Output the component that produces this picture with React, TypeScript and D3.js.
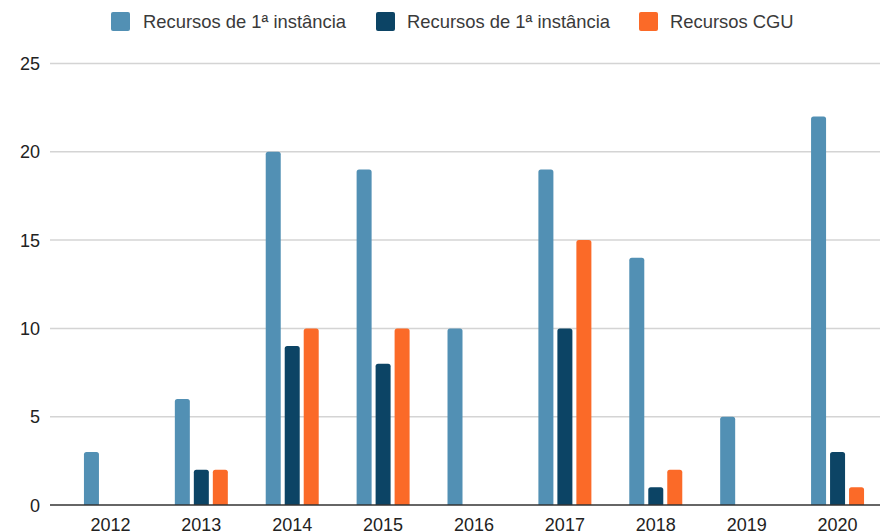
import React from "react";
import * as d3 from "d3";

const years = ["2012", "2013", "2014", "2015", "2016", "2017", "2018", "2019", "2020"];
const seriesNames = ["Recursos de 1ª instância", "Recursos de 1ª instância", "Recursos CGU"];
const seriesColors = ["#5290b4", "#0c4465", "#fb6a28"];
const firstInstance = [3, 6, 20, 19, 10, 19, 14, 5, 22];
const secondInstance = [0, 2, 9, 8, 0, 10, 1, 0, 3];
const cguAppeals = [0, 2, 10, 10, 0, 15, 2, 0, 1];
const yTicks = [0, 5, 10, 15, 20, 25];

const W = 881;
const H = 532;
const FONT = "Liberation Sans, Arial, sans-serif";

function topRoundedBar(x: number, y: number, w: number, h: number, r: number) {
  const rr = Math.min(r, h, w / 2);
  return `M${x},${y + h}V${y + rr}Q${x},${y} ${x + rr},${y}H${x + w - rr}Q${x + w},${y} ${x + w},${y + rr}V${y + h}Z`;
}

export default function App() {
  const series = [firstInstance, secondInstance, cguAppeals];
  const x0 = d3.scaleBand().domain(years).range([65, 883]).paddingInner(0.417).paddingOuter(0.2085);
  const keys = ["a", "b", "c"];
  const x1 = d3.scaleBand().domain(keys).range([0, x0.bandwidth()]).paddingInner(0.21).paddingOuter(0);
  const y = d3.scaleLinear().domain([0, 25]).range([505, 63.5]);

  const gridLeft = 50;
  const gridRight = 880;

  const legendItems = [
    { sq: 111, tx: 143 },
    { sq: 376, tx: 407 },
    { sq: 639, tx: 670 },
  ];

  return (
    <svg width={W} height={H} style={{ position: "absolute", left: 0, top: 0, background: "#fff" }} fontFamily={FONT}>
      {/* legend */}
      {seriesNames.map((name, i) => (
        <g key={"lg" + i}>
          <rect x={legendItems[i].sq} y={12} width={19} height={19} rx={2} fill={seriesColors[i]} />
          <text x={legendItems[i].tx} y={27.5} fontSize={18.4} fill="#3a3a3a">
            {name}
          </text>
        </g>
      ))}

      {/* gridlines and y labels */}
      {yTicks.map((t) => (
        <g key={"gy" + t}>
          {t !== 0 && (
            <line x1={gridLeft} x2={gridRight} y1={y(t)} y2={y(t)} stroke="#d4d4d4" strokeWidth={1.5} />
          )}
          <text x={40} y={y(t) + 6.5} fontSize={18} textAnchor="end" fill="#222">
            {t}
          </text>
        </g>
      ))}

      {/* bars */}
      {years.map((yr, gi) => (
        <g key={"g" + yr} transform={`translate(${x0(yr)},0)`}>
          {series.map((vals, si) => {
            const v = vals[gi];
            if (!v) return null;
            const bx = x1(keys[si]) as number;
            const by = y(v);
            return (
              <path
                key={"b" + si}
                d={topRoundedBar(bx, by, x1.bandwidth(), y(0) - by, 2.5)}
                fill={seriesColors[si]}
              />
            );
          })}
        </g>
      ))}

      {/* baseline */}
      <line x1={gridLeft} x2={gridRight} y1={y(0)} y2={y(0)} stroke="#333" strokeWidth={1.6} />

      {/* x labels */}
      {years.map((yr) => (
        <text
          key={"xl" + yr}
          x={(x0(yr) as number) + x0.bandwidth() / 2}
          y={531}
          fontSize={18}
          textAnchor="middle"
          fill="#222"
        >
          {yr}
        </text>
      ))}
    </svg>
  );
}
